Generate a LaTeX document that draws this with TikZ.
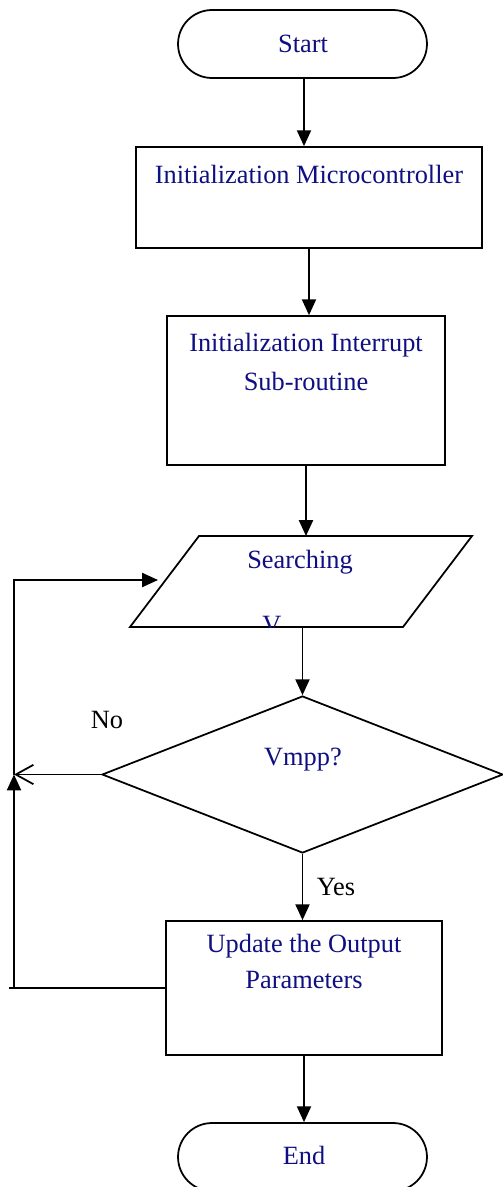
\documentclass[tikz,border=0pt]{standalone}
\usepackage{fontspec}
\setmainfont{Liberation Serif}
\usetikzlibrary{shapes.geometric,shapes.misc,arrows.meta}
\definecolor{txtblue}{RGB}{15,15,130}
\begin{document}
\begin{tikzpicture}[x=0.02cm,y=-0.02cm,
  line width=1pt,
  every node/.style={font=\fontsize{15}{18}\selectfont},
  box/.style={draw,rectangle,inner sep=0pt},
  term/.style={draw,rounded rectangle,inner sep=0pt,minimum width=4.98cm,minimum height=1.36cm},
  lbl/.style={text=txtblue,inner sep=0pt},
  arr/.style={-{Triangle[length=9pt,width=8pt]}},
  openarr/.style={-{Straight Barb[length=10pt,width=11pt]}}]
\fill[white] (0,0) rectangle (503,1187);
\useasboundingbox (0,0) rectangle (503,1187);
% nodes
\node[term] (start) at (302.5,44) {};
\node[lbl] (tstart) at (303,44) {Start};
\node[box,minimum width=6.92cm,minimum height=2.02cm] (b1) at (309,197.5) {};
\node[lbl] (t1) at (309,174) {Initialization Microcontroller};
\node[box,minimum width=5.56cm,minimum height=2.98cm] (b2) at (306,390.5) {};
\node[lbl] (t2a) at (306,345) {Initialization Interrupt};
\node[lbl] (t2b) at (306,381) {Sub-routine};
% parallelogram
\coordinate (p1) at (199,536);
\coordinate (p2) at (472,536);
\coordinate (p3) at (403,627);
\coordinate (p4) at (130,627);
\coordinate (ptop) at (306,536);
\coordinate (pbot) at (302.5,627);
\draw (p1) -- (p2) -- (p3) -- (p4) -- cycle;
\node[lbl] (ts) at (300,562) {Searching};
\begin{scope}
\clip (p1) -- (p2) -- (p3) -- (p4) -- cycle;
\node[lbl,anchor=base] (tv) at (272,633) {V};
\end{scope}
\node[draw,diamond,inner sep=0pt,minimum width=8.02cm,minimum height=3.14cm] (dec) at (302.5,774.5) {};
\node[lbl] (td) at (303,760) {Vmpp?};
\node[inner sep=0pt] (no) at (107,720) {No};
\node[inner sep=0pt] (yes) at (336,887) {Yes};
\node[box,minimum width=5.52cm,minimum height=2.68cm] (b4) at (304,988) {};
\node[lbl] (t4a) at (304,946) {Update the Output};
\node[lbl] (t4b) at (304,980) {Parameters};
\node[term] (end) at (302.5,1157) {};
\node[lbl] (tend) at (304,1155) {End};
% connectors
\coordinate (a1) at (304,78);
\coordinate (a2) at (309,248);
\draw[arr] (a1) -- (a1 |- b1.north);
\draw[arr] (a2) -- (a2 |- b2.north);
\draw[arr] (b2.south) -- (ptop);
\draw[arr] (pbot) -- (dec.north);
\draw[arr] (dec.south) -- (dec.south |- b4.north);
\draw[arr] (b4.south) -- (b4.south |- end.north);
% feedback loop
\coordinate (lt) at (14,580);
\coordinate (lm) at (14,774.5);
\coordinate (lb) at (14,988);
\coordinate (lbx) at (9,988);
\coordinate (pin) at (158,580);
\draw[openarr] (dec.west) -- (lm);
\draw (b4.west) -- (lbx);
\draw[arr] (lb) -- (lm);
\draw[arr] (lm) -- (lt) -- (pin);
\end{tikzpicture}
\end{document}
